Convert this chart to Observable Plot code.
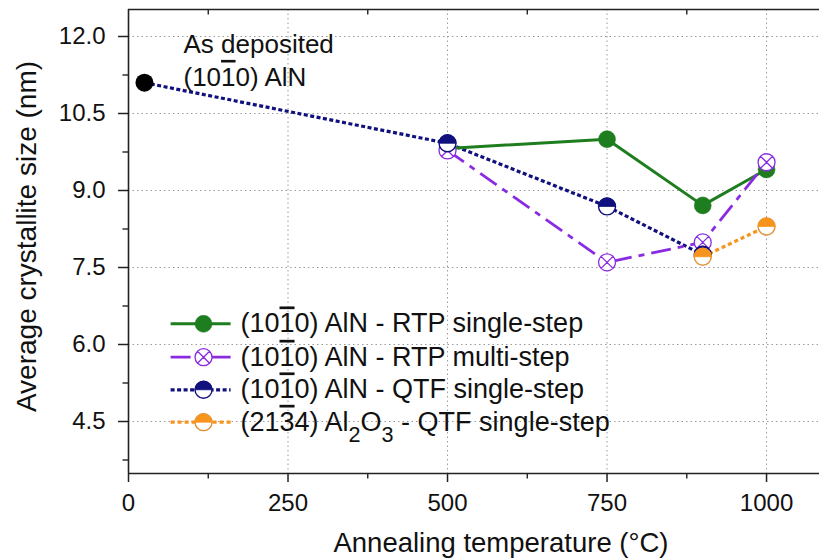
<!DOCTYPE html>
<html><head><meta charset="utf-8">
<script src="https://cdn.jsdelivr.net/npm/d3@7"></script>
<script src="https://cdn.jsdelivr.net/npm/@observablehq/plot@0.6"></script>
<style>body{margin:0;background:#fff} svg{display:block}</style>
</head><body><div id="chart"></div>
<script>
const OL = "\u0305";
// ---- data ----
const seriesNames = [
  `(101${OL}0) AlN - RTP single-step`,
  `(101${OL}0) AlN - RTP multi-step`,
  `(101${OL}0) AlN - QTF single-step`,
  `(213${OL}4) Al₂O₃ - QTF single-step`
];
const asDepositedX = [25];
const asDepositedY = [11.1];
const rtpSingleX = [500, 750, 900, 1000];
const rtpSingleY = [9.82, 10.0, 8.71, 9.41];
const rtpMultiX = [500, 750, 900, 1000];
const rtpMultiY = [9.78, 7.6, 7.99, 9.55];
const qtfAlnX = [25, 500, 750, 900];
const qtfAlnY = [11.1, 9.92, 8.69, 7.75];
const qtfAl2o3X = [900, 1000];
const qtfAl2o3Y = [7.71, 8.3];
const xTicks = [0, 250, 500, 750, 1000];
const xMinorTicks = [125, 375, 625, 875];
const yTicks = [4.5, 6.0, 7.5, 9.0, 10.5, 12.0];
const yMinorTicks = [3.75, 5.25, 6.75, 8.25, 9.75, 11.25];
const annotationLines = ["As deposited", `(101${OL}0) AlN`];
const xLabel = "Annealing temperature (°C)";
const yLabel = "Average crystallite size (nm)";

// ---- layout / styles ----
const X_DOMAIN = [0, 1083];
const Y_DOMAIN = [3.487, 12.526];
const FONT = "'Liberation Sans', Arial, Helvetica, sans-serif";
const styles = [
  {color: "#1e7d1e", dash: null, width: 3},
  {color: "#8a2be2", dash: "20,7,6,7", width: 2.8},
  {color: "#10107e", dash: "4,2.5", width: 3.2},
  {color: "#f7941d", dash: "4,3", width: 3.2}
];
const legendRowsY = [6.403, 5.753, 5.118, 4.487];
const legendLineX = [66, 160];
const legendMarkerX = 117.6;
const legendTextX = 175.5;
const annotX = 86.2;
const annotY = [11.844, 11.2];

const pts = (xs, ys) => xs.map((x, i) => ({x, y: ys[i]}));
const seriesPts = [
  pts(rtpSingleX, rtpSingleY),
  pts(rtpMultiX, rtpMultiY),
  pts(qtfAlnX, qtfAlnY),
  pts(qtfAl2o3X, qtfAl2o3Y)
];

// ---- symbols ----
const symCircleX = {draw(ctx, size) {
  const r = Math.sqrt(size / Math.PI);
  ctx.moveTo(r, 0); ctx.arc(0, 0, r, 0, 2 * Math.PI);
  const a = r * Math.SQRT1_2;
  ctx.moveTo(-a, -a); ctx.lineTo(a, a);
  ctx.moveTo(-a, a); ctx.lineTo(a, -a);
}};
const symTopHalf = {draw(ctx, size) {
  const r = Math.sqrt(size / Math.PI);
  ctx.moveTo(-r, 0); ctx.arc(0, 0, r, Math.PI, 2 * Math.PI); ctx.closePath();
}};
const tickLeft = {draw(ctx) { ctx.moveTo(-6, 0); ctx.lineTo(0, 0); }};
const tickDown = {draw(ctx) { ctx.moveTo(0, 0); ctx.lineTo(0, 5); }};

function markerMarks(data, k) {
  const s = styles[k];
  const R = 8.5;
  if (k === 0) return [Plot.dot(data, {x: "x", y: "y", r: R, fill: s.color, stroke: s.color, strokeWidth: 0.5})];
  if (k === 1) return [Plot.dot(data, {x: "x", y: "y", r: R, symbol: symCircleX, fill: "white", stroke: s.color, strokeWidth: 1.3})];
  const edge = k === 3 ? "#e0913a" : s.color;
  return [
    Plot.dot(data, {x: "x", y: "y", r: R, fill: "white", stroke: edge, strokeWidth: 1.4}),
    Plot.dot(data, {x: "x", y: "y", r: R, symbol: symTopHalf, fill: s.color, stroke: s.color, strokeWidth: 0.8})
  ];
}
function lineMark(data, k) {
  const s = styles[k];
  return Plot.line(data, {x: "x", y: "y", stroke: s.color, strokeWidth: s.width, strokeDasharray: s.dash || undefined, strokeLinecap: "butt"});
}

const marks = [];
// grid
marks.push(Plot.gridX({ticks: xTicks.filter(d => d > 0), stroke: "#9a9a9a", strokeOpacity: 1, strokeDasharray: "1.5,3", strokeWidth: 1}));
marks.push(Plot.gridY({ticks: yTicks, stroke: "#9a9a9a", strokeOpacity: 1, strokeDasharray: "1.5,3", strokeWidth: 1}));
// series lines (navy first so it sits under others)
marks.push(lineMark(seriesPts[2], 2));
marks.push(lineMark(seriesPts[0], 0));
marks.push(lineMark(seriesPts[1], 1));
marks.push(lineMark(seriesPts[3], 3));
// markers
marks.push(...markerMarks(seriesPts[0], 0));
marks.push(...markerMarks(seriesPts[1], 1));
marks.push(...markerMarks(seriesPts[2].filter(d => d.x !== 25), 2));
marks.push(...markerMarks(seriesPts[3], 3));
marks.push(Plot.dot(pts(asDepositedX, asDepositedY), {x: "x", y: "y", r: 9, fill: "black"}));
// annotation
marks.push(Plot.text(annotationLines, {x: () => annotX, y: (d, i) => annotY[i], text: d => d, textAnchor: "start", lineAnchor: "middle", fontSize: 26, fill: "#111"}));
// legend
seriesNames.forEach((name, k) => {
  const ly = legendRowsY[k];
  marks.push(lineMark(legendLineX.map(x => ({x, y: ly})), k));
  marks.push(...markerMarks([{x: legendMarkerX, y: ly}], k));
  marks.push(Plot.text([name], {x: () => legendTextX, y: () => ly, text: d => d, textAnchor: "start", lineAnchor: "middle", fontSize: 27, fill: "#111"}));
});
// frame lines
marks.push(Plot.ruleX([X_DOMAIN[0]], {stroke: "#222", strokeWidth: 1.6}));
marks.push(Plot.ruleY([Y_DOMAIN[0]], {stroke: "#222", strokeWidth: 1.6}));
marks.push(Plot.ruleY([Y_DOMAIN[1]], {stroke: "#222", strokeWidth: 1.6}));
// axes
marks.push(Plot.axisY({ticks: yTicks, tickFormat: d3.format(".1f"), tickSize: 10, tickPadding: 13, fontSize: 24, label: null, stroke: "#222", strokeWidth: 1.5, fill: "#111"}));
marks.push(Plot.axisX({ticks: xTicks, tickFormat: d3.format("d"), tickSize: 9, tickPadding: 11, fontSize: 24, label: null, stroke: "#222", strokeWidth: 1.5, fill: "#111"}));
marks.push(Plot.dot(yMinorTicks, {y: d => d, frameAnchor: "left", symbol: tickLeft, stroke: "#222", strokeWidth: 1.4}));
marks.push(Plot.dot(xMinorTicks, {x: d => d, frameAnchor: "bottom", symbol: tickDown, stroke: "#222", strokeWidth: 1.4}));
marks.push(Plot.dot(xMinorTicks, {x: d => d, frameAnchor: "top", symbol: tickDown, stroke: "#222", strokeWidth: 1.4}));
// axis titles
marks.push(Plot.text([xLabel], {frameAnchor: "bottom", text: d => d, textAnchor: "middle", dx: 27, dy: 70, lineAnchor: "middle", fontSize: 27.5, fill: "#111"}));
marks.push(Plot.text([yLabel], {frameAnchor: "left", text: d => d, textAnchor: "middle", rotate: -90, dx: -101, dy: -5, lineAnchor: "middle", fontSize: 28, fill: "#111"}));

const chart = Plot.plot({
  width: 819, height: 560,
  marginTop: 9, marginBottom: 87, marginLeft: 128, marginRight: 0,
  x: {domain: X_DOMAIN, axis: null},
  y: {domain: Y_DOMAIN, axis: null},
  style: {fontFamily: FONT, background: "white", color: "#111"},
  marks
});

// rich text: overline and subscripts
const NS = "http://www.w3.org/2000/svg";
function richify(el) {
  const s = el.textContent;
  if (!/[\u0305\u2082\u2083]/.test(s)) return;
  const segs = [];
  let buf = "";
  const push = (text, type) => segs.push({text, type});
  for (let i = 0; i < s.length; i++) {
    const c = s[i], n = s[i + 1];
    if (n === OL) { if (buf) push(buf, "n"); buf = ""; push(c, "o"); i++; }
    else if (c === "\u2082" || c === "\u2083") { if (buf) push(buf, "n"); buf = ""; push(c === "\u2082" ? "2" : "3", "s"); }
    else buf += c;
  }
  if (buf) push(buf, "n");
  el.textContent = "";
  let shift = 0;
  for (const seg of segs) {
    const t = document.createElementNS(NS, "tspan");
    t.textContent = seg.text;
    const target = seg.type === "s" ? 11 : 0;
    if (target !== shift) { t.setAttribute("dy", String(target - shift)); shift = target; }
    if (seg.type === "o") t.setAttribute("text-decoration", "overline");
    if (seg.type === "s") t.setAttribute("font-size", "0.8em");
    el.appendChild(t);
  }
}
chart.querySelectorAll("text").forEach(el => { if (!el.querySelector("tspan")) richify(el); });
document.getElementById("chart").appendChild(chart);
</script>
</body></html>
